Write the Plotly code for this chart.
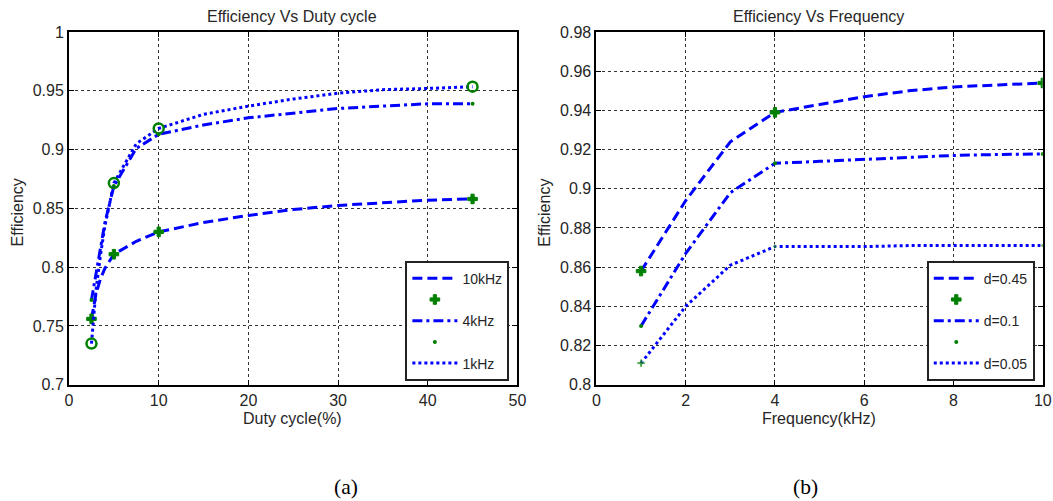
import plotly.graph_objects as go

# ---- Panel (a): efficiency vs duty cycle ----
duty_pct = [2.5, 3, 3.5, 4, 5, 7.5, 10, 15, 20, 25, 30, 35, 40, 45]
eff_10khz = [0.756, 0.777, 0.790, 0.799, 0.811, 0.822, 0.830, 0.838, 0.844, 0.849, 0.8525, 0.855, 0.857, 0.858]
eff_4khz = [0.772, 0.795, 0.818, 0.838, 0.869, 0.901, 0.913, 0.921, 0.927, 0.931, 0.935, 0.937, 0.939, 0.939]
eff_1khz = [0.735, 0.780, 0.810, 0.835, 0.8715, 0.905, 0.918, 0.930, 0.937, 0.943, 0.948, 0.951, 0.952, 0.9535]
duty_marked = [2.5, 5, 10, 45]

# ---- Panel (b): efficiency vs switching frequency ----
freq_khz = [1, 2, 3, 4, 5, 6, 7, 8, 9, 10]
eff_d045 = [0.858, 0.894, 0.924, 0.939, 0.943, 0.947, 0.950, 0.952, 0.953, 0.954]
eff_d010 = [0.830, 0.867, 0.898, 0.913, 0.914, 0.915, 0.916, 0.917, 0.9175, 0.9178]
eff_d005 = [0.811, 0.840, 0.861, 0.8705, 0.8705, 0.8705, 0.871, 0.871, 0.871, 0.871]
freq_marked = [1, 4, 10]

# ---- Axis ticks ----
duty_ticks = [0, 10, 20, 30, 40, 50]
eff_ticks_a = [0.7, 0.75, 0.8, 0.85, 0.9, 0.95, 1.0]
eff_labels_a = ["0.7", "0.75", "0.8", "0.85", "0.9", "0.95", "1"]
freq_ticks = [0, 2, 4, 6, 8, 10]
eff_ticks_b = [0.8, 0.82, 0.84, 0.86, 0.88, 0.9, 0.92, 0.94, 0.96, 0.98]
eff_labels_b = ["0.8", "0.82", "0.84", "0.86", "0.88", "0.9", "0.92", "0.94", "0.96", "0.98"]

W, H = 1060, 512
# layout positions below are given in page pixels of the final view
X0, SX = 4.0, 0.987
Y0, SY = 9.0, 0.965

BLUE = "#0000ff"
GREEN = "#008000"
TXT = "#262626"
FONT = "Liberation Sans, Arial, sans-serif"
SERIF = "Liberation Serif, Times New Roman, serif"

DASH = "10px,5px"
DASHDOT = "10px,4px,3px,4px"
DOT = "3px,3px"


def pick(xs, ys, keep):
    lookup = dict(zip(xs, ys))
    return [lookup[k] for k in keep]


def px_x(p):
    return (p - X0) / SX / W


def px_y(p):
    return 1 - (p - Y0) / SY / H


fig = go.Figure()


def line(x, y, dash, name, xa, ya, leg):
    fig.add_trace(go.Scatter(
        x=x, y=y, mode="lines", name=name, xaxis=xa, yaxis=ya, legend=leg,
        line=dict(color=BLUE, width=3, dash=dash),
    ))


def marks(x, y, symbol, size, xa, ya, leg, show=True, lw=0):
    fig.add_trace(go.Scatter(
        x=x, y=y, mode="markers", name="", xaxis=xa, yaxis=ya, legend=leg,
        showlegend=show,
        marker=dict(color=GREEN, symbol=symbol, size=size,
                    line=dict(color=GREEN, width=lw)),
    ))


# panel (a)
line(duty_pct, eff_10khz, DASH, "10kHz", "x", "y", "legend")
marks(duty_marked, pick(duty_pct, eff_10khz, duty_marked), "cross", 8, "x", "y", "legend", lw=1)
line(duty_pct, eff_4khz, DASHDOT, "4kHz", "x", "y", "legend")
marks(duty_marked, pick(duty_pct, eff_4khz, duty_marked), "circle", 4, "x", "y", "legend")
line(duty_pct, eff_1khz, DOT, "1kHz", "x", "y", "legend")
marks(duty_marked, pick(duty_pct, eff_1khz, duty_marked), "circle-open", 10, "x", "y",
      "legend", show=False, lw=2.5)

# panel (b)
line(freq_khz, eff_d045, DASH, "d=0.45", "x2", "y2", "legend2")
marks(freq_marked, pick(freq_khz, eff_d045, freq_marked), "cross", 8, "x2", "y2", "legend2", lw=1)
line(freq_khz, eff_d010, DASHDOT, "d=0.1", "x2", "y2", "legend2")
marks(freq_marked, pick(freq_khz, eff_d010, freq_marked), "circle", 4, "x2", "y2", "legend2")
line(freq_khz, eff_d005, DOT, "d=0.05", "x2", "y2", "legend2")
fig.add_trace(go.Scatter(
    x=freq_marked, y=pick(freq_khz, eff_d005, freq_marked), mode="markers",
    xaxis="x2", yaxis="y2", showlegend=False,
    marker=dict(color=GREEN, symbol=["cross", "circle", "circle"], size=[7, 4, 4]),
))

ax_common = dict(
    showgrid=True, gridcolor="#333333", gridwidth=1, griddash="3px,3px",
    showline=True, linecolor="black", linewidth=2, mirror="allticks",
    ticks="inside", ticklen=5, tickcolor="black", tickwidth=1,
    zeroline=False, fixedrange=True,
    tickfont=dict(family=FONT, size=16, color=TXT),
)

y_dom = [px_y(385), px_y(33)]

legend_style = dict(
    bgcolor="white", bordercolor="#222222", borderwidth=2,
    font=dict(family=FONT, size=14, color=TXT), itemwidth=45,
    xanchor="right", yanchor="bottom", traceorder="normal",
)

fig.update_layout(
    width=W, height=H,
    margin=dict(l=0, r=0, t=0, b=0),
    paper_bgcolor="white", plot_bgcolor="white",
    xaxis=dict(domain=[px_x(69), px_x(517)], range=[0, 50], tickvals=duty_ticks,
               anchor="y", **ax_common),
    yaxis=dict(domain=y_dom, range=[0.7, 1.0], tickvals=eff_ticks_a,
               ticktext=eff_labels_a, anchor="x", **ax_common),
    xaxis2=dict(domain=[px_x(596), px_x(1042)], range=[0, 10], tickvals=freq_ticks,
                anchor="y2", **ax_common),
    yaxis2=dict(domain=y_dom, range=[0.8, 0.98], tickvals=eff_ticks_b,
                ticktext=eff_labels_b, anchor="x2", **ax_common),
    legend=dict(x=px_x(509), y=px_y(381), **legend_style),
    legend2=dict(x=px_x(1034), y=px_y(381), **legend_style),
)

texts = [
    ("Efficiency Vs Duty cycle", 292, 17, 0, 16, FONT),
    ("Efficiency Vs Frequency", 818, 17, 0, 16, FONT),
    ("Duty cycle(%)", 292, 419, 0, 16, FONT),
    ("Frequency(kHz)", 818, 419, 0, 16, FONT),
    ("Efficiency", 17, 213, -90, 16, FONT),
    ("Efficiency", 544, 213, -90, 16, FONT),
    ("(a)", 346, 487, 0, 21.5, SERIF),
    ("(b)", 805, 487, 0, 21.5, SERIF),
]
for t, x, y, ang, sz, fam in texts:
    fig.add_annotation(
        text=t, x=px_x(x), y=px_y(y), xref="paper", yref="paper",
        xanchor="center", yanchor="middle", showarrow=False, textangle=ang,
        font=dict(family=fam, size=sz, color="black" if fam == SERIF else TXT),
    )

fig.write_html("out.html")
